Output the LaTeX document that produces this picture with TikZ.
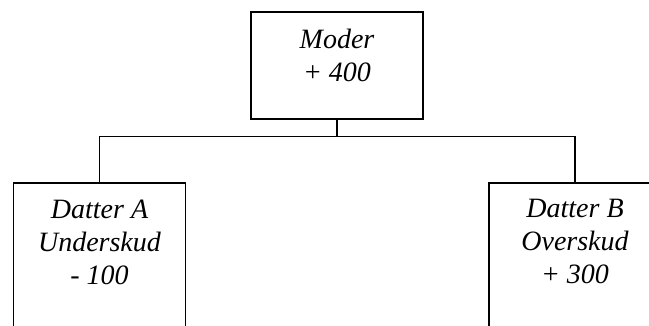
\documentclass[tikz,border=0pt]{standalone}
\usepackage{fontspec}
\setmainfont{Liberation Serif}
\usetikzlibrary{positioning}

\begin{document}
\begin{tikzpicture}[x=1pt, y=1pt]
    % Define styles
    \tikzset{
        company/.style={
            draw,
            line width=1.2pt,
            minimum width=172pt,
            inner sep=0pt
        },
        boxtext/.style={
            font=\fontsize{28}{33}\selectfont\itshape,
            align=center,
            inner sep=0pt
        },
        link/.style={
            line width=1.2pt
        }
    }

    % Frame of the cut-out
    \path[use as bounding box, clip] (0,0) rectangle (649,-325);

    % Parent company
    \node[company, minimum height=107pt] (moder) at (337,-65.5) {};
    \node[boxtext, below=17pt of moder.north] (modertext) {Moder\\+ 400};

    % Subsidiaries
    \node[company, minimum height=200pt] (datterA) at (99.5,-283) {};
    \node[boxtext, below=17pt of datterA.north] (datterAtext) {Datter A\\Underskud\\- 100};

    \node[company, minimum height=200pt] (datterB) at (575,-283) {};
    \node[boxtext, below=17pt of datterB.north] (datterBtext) {Datter B\\Overskud\\+ 300};

    % Connectors
    \draw[link] (moder.south) -- ++(0,-17) coordinate (split);
    \draw[link] (datterA.north) |- (split) -| (datterB.north);
\end{tikzpicture}
\end{document}
